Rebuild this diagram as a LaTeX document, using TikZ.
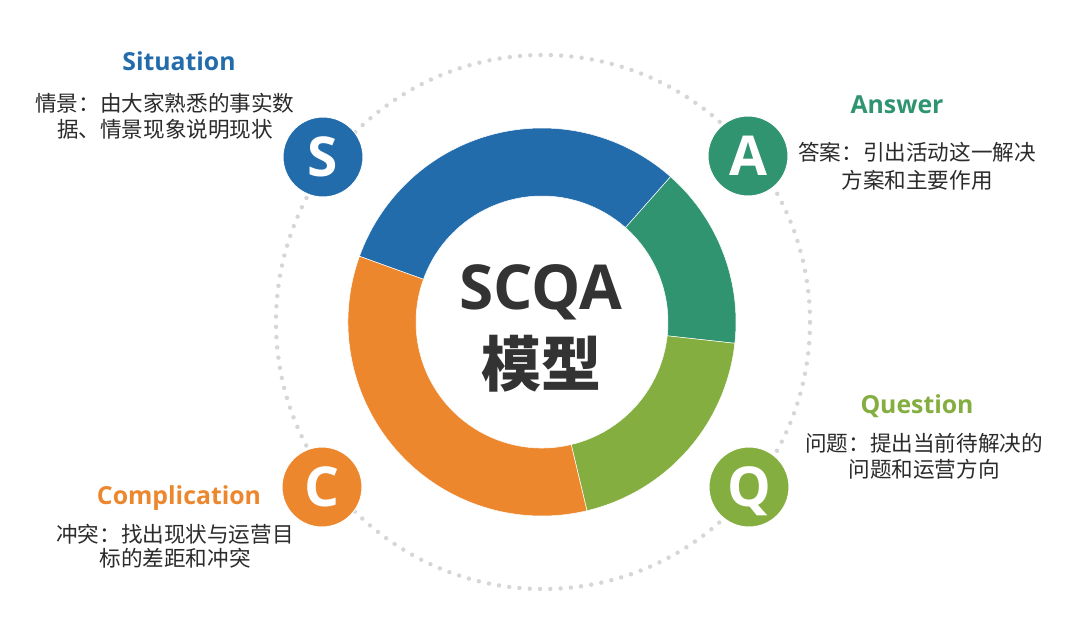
\documentclass[tikz,border=0pt]{standalone}
\usepackage{fontspec}
\setmainfont{Open Sans}
\newfontfamily\en{Open Sans}
\newfontfamily\cjk{Noto Sans CJK SC}
\usetikzlibrary{calc}
\definecolor{cBlue}{HTML}{236CAC}
\definecolor{cTeal}{HTML}{319471}
\definecolor{cLime}{HTML}{84AE40}
\definecolor{cOrange}{HTML}{ED872D}
\definecolor{cText}{HTML}{333333}
\definecolor{cBody}{HTML}{2B2B2B}
\definecolor{cDot}{HTML}{D6D6D6}
\begin{document}
\begin{tikzpicture}[x=1pt,y=1pt,
  badge/.style={circle, minimum size=80pt, inner sep=0pt, draw=white, line width=1pt,
    text=white, font=\en\bfseries\fontsize{55}{55}\selectfont, text depth=0pt},
  title/.style={anchor=base, inner sep=0pt, font=\en\bfseries\fontsize{24.8}{24.8}\selectfont},
  body/.style={anchor=base, inner sep=0pt, text=cBody, font=\cjk\fontsize{21.6}{26}\selectfont},
  seg/.style={draw=white, line width=0.5pt, line join=round},
  dots/.style={draw=cDot, line width=4.4pt, line cap=round, dash pattern=on 0pt off 10.29pt}]
\useasboundingbox[fill=white] (0,0) rectangle (1080,-625);
\coordinate (O) at (542,-322);
\coordinate (D) at (543,-322);
% dotted orbit
\draw[dots] (D) circle[radius=267];
% donut ring
\fill[cBlue,seg] ($(O)+(48.5:194)$) arc[start angle=48.5,end angle=160.2,radius=194]
  -- ($(O)+(160.2:126)$) arc[start angle=160.2,end angle=48.5,radius=126] -- cycle;
\fill[cTeal,seg] ($(O)+(-6.3:194)$) arc[start angle=-6.3,end angle=48.5,radius=194]
  -- ($(O)+(48.5:126)$) arc[start angle=48.5,end angle=-6.3,radius=126] -- cycle;
\fill[cLime,seg] ($(O)+(-76.6:194)$) arc[start angle=-76.6,end angle=-6.3,radius=194]
  -- ($(O)+(-6.3:126)$) arc[start angle=-6.3,end angle=-76.6,radius=126] -- cycle;
\fill[cOrange,seg] ($(O)+(160.2:194)$) arc[start angle=160.2,end angle=283.4,radius=194]
  -- ($(O)+(283.4:126)$) arc[start angle=283.4,end angle=160.2,radius=126] -- cycle;
% centre text
\node[anchor=base, inner sep=0pt, text=cText, font=\en\bfseries\fontsize{62}{62}\selectfont] (core) at (541,-309) {SCQA};
\node[anchor=base, inner sep=0pt, text=cText, font=\cjk\bfseries\fontsize{60}{60}\selectfont] (coreCN) at (541,-386) {模型};
% badges
\node[badge, fill=cBlue] (S) at (323,-157) {S};
\node[badge, fill=cTeal] (A) at (748,-156) {A};
\node[badge, fill=cOrange] (C) at (322,-487) {C};
\node[badge, fill=cLime] (Q) at (749,-487) {Q};
% Situation
\node[title, text=cBlue] (sT) at (179,-70) {Situation};
\node[body] (s1) at (165,-111) {情景：由大家熟悉的事实数};
\node[body] (s2) at (165,-137) {据、情景现象说明现状};
% Answer
\node[title, text=cTeal] (aT) at (897,-113) {Answer};
\node[body] (a1) at (917,-160) {答案：引出活动这一解决};
\node[body] (a2) at (917,-188) {方案和主要作用};
% Question
\node[title, text=cLime] (qT) at (917,-413) {Question};
\node[body] (q1) at (924,-451) {问题：提出当前待解决的};
\node[body] (q2) at (924,-477) {问题和运营方向};
% Complication
\node[title, text=cOrange] (cT) at (179,-504) {Complication};
\node[body] (c1) at (175,-542) {冲突：找出现状与运营目};
\node[body] (c2) at (175,-566) {标的差距和冲突};
\end{tikzpicture}
\end{document}
